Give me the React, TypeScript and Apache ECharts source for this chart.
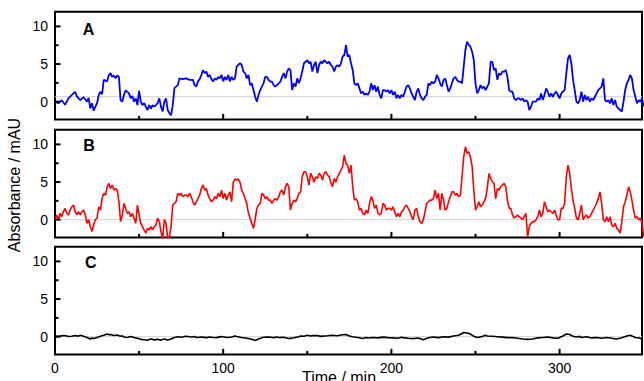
import { useEffect, useRef } from "react";
import * as echarts from "echarts";

const timeTicks = [0, 100, 200, 300];
const timeMinorTicks = [50, 150, 250];
const yMajorTicks = [0, 5, 10];
const yMinorTicks = [2.5, 7.5];
const panelLetters = ["A", "B", "C"];
const baselines = [0.66, 0, 0];
const traceColors = ["#0000ff", "#ff0000", "#000000"];

const seriesA: number[][] = [
  [0,0],[2,-0.2],[4,0.2],[6,-0.4],[8,0.45],[10,0.9],[12,1.3],[13,0.7],[15,0.2],[17,0.6],[19,0],[20,0.5],[21,-0.9],[22,-0.2],[23,-1.2],[25,-0.2],[26,0.9],[27,1.3],[28,1],[29,2.9],[31,2.7],[32,3.5],[33,3.8],[34,3.3],[35,3.5],[36,3.1],[37,3.5],[38,3.3],[39,0.2],[40,0],[41,0.9],[42,1.5],[44,1.1],[45,0.45],[46,0.75],[47,0],[48,0.45],[49,-0.45],[50,1.45],[51,0],[52,-0.45],[53,-0.2],[54,-0.65],[55,-1.1],[56,-0.45],[57,-0.9],[58,-0.45],[59,-0.65],[60,-0.45],[61,-0.2],[62,0.45],[63,-0.65],[64,-1.3],[65,0],[66,0.45],[67,-1.1],[68,-1.5],[69,-1.8],[70,-0.45],[71,1.8],[72,2],[73,2.2],[74,3.1],[76,3],[78,3.1],[80,2.9],[82,2.9],[83,2.2],[84,2],[85,2.7],[86,3],[87,3.55],[88,4.2],[89,3.8],[90,4],[91,3.3],[92,3.55],[93,3],[94,2.7],[95,3.1],[96,2.9],[97,3.3],[98,3.1],[99,3.55],[100,2.7],[101,3.3],[102,2.9],[103,3.55],[104,2.7],[105,3.3],[106,2.9],[107,3.1],[108,4.65],[109,4.9],[110,5.1],[111,4.9],[112,4],
  [113,3.8],[114,3.1],[115,3.55],[116,2.2],[117,2.44],[118,1.55],[119,0.66],[120,0],[121,0.9],[122,1.55],[123,2],[124,2.44],[125,3.3],[126,3.3],[127,2.9],[128,2.66],[129,2.66],[130,2.2],[131,2],[132,2.2],[133,2.44],[134,2.66],[135,3.3],[136,3.8],[137,3.1],[138,4],[139,4.4],[140,4.2],[141,1.55],[142,2.44],[143,2],[144,3.1],[145,2.44],[146,3.1],[147,4],[148,5.1],[149,5.3],[150,5.5],[151,5.1],[152,5.3],[153,4],[154,4.87],[155,5.3],[156,3.8],[157,4.87],[158,5.3],[159,5.1],[160,5.5],[161,5.3],[162,5.1],[163,5.3],[164,4.87],[165,4.65],[166,4],[167,4.65],[168,4.87],[169,4.65],[170,5.1],[171,6],[172,6.2],[173,7.5],[174,6],[175,6.2],[176,5.1],[177,4.2],[178,2.44],[179,2.2],[180,2.44],[181,1.77],[182,1.1],[183,1.33],[184,0.9],[185,1.1],[186,0.9],[187,1.33],[188,2.44],[189,1.55],[190,2.2],[191,1.33],[192,2],[193,0.9],[194,0.44],[195,1.55],[196,1.55],[197,1.33],[198,1.55],[199,1.1],[200,1.55],[201,0.9],[202,1.33],[203,0.44],[204,0.9],[205,0.44],[206,0.9],[207,0.66],[208,1.33],[209,2],[210,2.2],[211,1.77],[212,1.1],[213,0.66],[214,0.22],[215,1.33],[216,1.77],[217,0.9],[218,0.44],[219,0.22],[220,0.66],[221,0.9],[222,2.44],[223,2.2],[224,2.66],[225,2.44],[226,2.66],[227,3.55],[228,3.1],[229,2.44],[230,2],[231,2.88],[232,3.1],
  [233,2.2],[234,1.33],[235,1.77],[236,2.44],[237,3.1],[238,3.3],[239,2.88],[240,2.66],[241,2.66],[242,2.44],[243,4.65],[244,6.87],[245,7.97],[246,7.53],[247,7.3],[248,6.64],[249,5.54],[250,2.44],[251,1.1],[252,1.55],[253,2.2],[254,1.77],[255,2],[256,1.55],[257,2],[258,2.44],[259,5.3],[260,5.3],[261,4.2],[262,4.43],[263,2.9],[264,3.77],[265,3.55],[266,4],[267,4],[268,4.2],[269,3.3],[270,1.55],[271,1.33],[272,1.33],[273,0.44],[274,0.22],[275,0.44],[276,0.44],[277,0.22],[278,0.44],[279,0],[280,0.22],[281,0],[282,-1.1],[283,-0.66],[284,0],[285,0],[286,0],[287,0.44],[288,0.22],[289,1.1],[290,0.22],[291,0.89],[292,1.77],[293,1.33],[294,0.66],[295,1.1],[296,0.66],[297,1.1],[298,1.33],[299,0.89],[300,0.44],[301,1.1],[302,1.33],[303,1.55],[304,3.77],[305,5.76],[306,6.2],[307,5.1],[308,2.9],[309,1.55],[310,0],[311,-0.22],[312,0.22],[313,1.33],[314,0],[315,0.89],[316,0.22],[317,0.66],[318,0],[319,0.44],[320,0.22],[321,0.66],[322,1.1],[323,1.55],[324,1.77],[325,2],[326,3.1],[327,0.22],[328,0],[329,0.22],[330,-0.22],[331,0.44],[332,-0.44],[333,0.22],[334,-0.66],[335,-0.88],[336,-1.1],[337,-1.33],[338,0],[339,1.55],[340,2.44],[341,2.88],[342,3.55],[343,3.1],[344,1.55],[345,0.66],[346,-0.22],[347,0.22],[348,0],[349,0.44],[350,-0.66]
];

const seriesB: number[][] = [
  [0,0],[1,0.63],[2,0],[3,0.85],[4,0.4],[5,1.06],[6,1.5],[7,0.85],[8,0.63],[9,1.28],[10,1.72],[11,1.95],[12,1.06],[13,0.63],[14,1.06],[15,0.63],[16,1.06],[17,1.28],[18,0.63],[19,-0.48],[20,0],[21,-0.93],[22,-1.58],[23,-0.7],[24,0],[25,0.2],[26,1.72],[27,1.28],[28,2.8],[29,3.5],[30,3.27],[31,4.37],[32,4.82],[33,4.15],[34,4.6],[35,3.93],[36,4.15],[37,3.93],[38,2.38],[39,-0.26],[40,0.63],[41,2.17],[42,1.5],[43,0.85],[44,1.06],[45,0.4],[46,0.85],[47,0.2],[48,-0.48],[49,1.95],[50,0.63],[51,-0.48],[52,-0.93],[53,-1.36],[54,-1.8],[55,-1.15],[56,-1.36],[57,-0.93],[58,-1.36],[59,-0.93],[60,-0.7],[61,0.2],[62,-0.26],[63,-1.58],[64,-2.47],[65,0],[66,-0.48],[67,-2.47],[68,-2.25],[69,-0.93],[70,1.95],[71,2.17],[72,2.38],[73,3.5],[74,3.27],[75,3.5],[76,3.05],[77,3.27],[78,3.27],[79,3.05],[80,3.5],[81,3.05],[82,2.38],[83,1.95],[84,2.38],[85,2.8],[86,3.27],[87,4.15],[88,4.6],[89,3.93],[90,4.15],[91,3.27],[92,2.8],[93,2.38],[94,2.6],[95,3.05],[96,2.8],[97,3.5],[98,3.05],[99,3.93],[100,2.8],[101,3.5],[102,2.6],[103,3.27],[104,3.7],[105,2.38],[106,4.97],[107,5.4],[108,5.26],[109,5.4],[110,4.97],[111,3.93],[112,3.5],[113,2.8],[114,2.17],[115,0.85],[116,0.2],[117,-0.48],[118,-1.15],[119,0],[120,1.5],[121,1.95],[122,2.17],[123,3.5],[124,3.27],[125,2.8],[126,3.05],[127,2.6],[128,2.6],[129,2.17],[130,2.6],[131,2.8],[132,2.6],[133,3.05],[134,3.7],[135,3.93],[136,3.27],[137,4.37],[138,4.82],[139,4.37],[140,1.28],[141,2.17],[142,2.6],[143,2.38],[144,2.8],[145,3.5],[146,3.7],[147,5.7],[148,6.37],[149,6.37],[150,5.7],[151,4.6],[152,6.15],[153,5.7],[154,4.97],[155,5.7],[156,5.48],[157,6.15],[158,5.93],[159,5.26],[160,6.15],[161,6.37],[162,5.93],[163,5.7],[164,4.97],[165,4.37],[166,5.48],[167,4.97],[168,5.7],[169,6.15],[170,6.58],[171,7.03],[172,8.57],[173,7.47],[174,7.25],[175,6.15],
  [176,7.25],[177,4.37],[178,2.6],[179,2.8],[180,2.38],[181,1.28],[182,1.5],[183,0.85],[184,0.63],[185,1.28],[186,0.85],[187,2.17],[188,3.05],[189,2.6],[190,1.5],[191,1.95],[192,0.85],[193,0.63],[194,0.85],[195,2.17],[196,1.95],[197,1.28],[198,1.5],[199,1.5],[200,1.28],[201,1.72],[202,1.06],[203,0.4],[204,0.85],[205,0.4],[206,1.06],[207,1.28],[208,1.72],[209,1.95],[210,1.5],[211,1.06],[212,0.4],[213,0],[214,1.28],[215,1.5],[216,0.4],[217,-0.26],[218,-0.48],[219,0],[220,1.06],[221,2.17],[222,2.38],
  [223,2.6],[224,2.6],[225,2.8],[226,3.93],[227,2.8],[228,3.5],[229,1.28],[230,3.5],[231,2.6],[232,1.28],[233,1.5],[234,2.38],[235,3.05],[236,3.7],[237,3.7],[238,3.27],[239,3.5],[240,3.05],[241,3.27],[242,5.7],[243,8.35],[244,9.68],[245,8.8],[246,9],[247,8.35],[248,7.03],[249,3.93],[250,1.28],[251,1.72],[252,2.38],[253,1.72],[254,1.95],[255,2.38],[256,2.8],[257,4.15],[258,6.15],[259,5.48],[260,5.04],[261,4.82],[262,2.8],[263,4.15],[264,3.93],[265,4.37],[266,4.6],[267,4.82],[268,4.37],[269,2.6],[270,1.5],[271,1.5],[272,0.63],[273,0.2],[274,0.4],[275,0.63],[276,0.4],[277,0.2],[278,0],[279,0.4],[280,0.85],[281,-2.25],[282,-0.93],[283,-0.48],[284,-0.26],[285,-0.26],[286,0],[287,0.4],[288,1.28],[289,0.4],[290,0.85],[291,2.38],[292,1.72],[293,1.06],[294,1.28],[295,1.06],[296,0.85],[297,1.28],[298,0.63],[299,0],[300,0],[301,1.5],[302,1.5],[303,2.17],[304,5.7],[305,7.25],[306,6.15],[307,4.15],[308,2.6],[309,1.5],[310,0.2],[311,0],[312,0.85],[313,1.95],[314,0],[315,0.4],[316,0.63],[317,0.2],[318,0.4],[319,0.85],[320,1.28],[321,1.72],[322,2.17],[323,2.8],[324,3.7],[325,2.17],[326,0],[327,-0.26],[328,0.4],[329,-0.26],[330,0.4],[331,-0.7],[332,-0.93],[333,-0.48],[334,-1.15],[335,-1.36],[336,-1.8],[337,-0.26],[338,1.72],[339,2.38],[340,3.27],[341,4.37],[342,3.7],[343,2.6],[344,1.28],[345,0.2],[346,0.4],[347,0],[348,0.2],[349,-0.48],[350,-2.25]
];

const seriesC: number[][] = [
  [0,0.1],[2,0.02],[3,0.08],[5,0.15],[7,0.1],[8,0.02],[10,0.05],[12,0.15],[14,0.08],[15,0.2],[17,0.05],[19,-0.1],[21,-0.3],[22,-0.18],[23,-0.25],[25,-0.1],[27,0.05],[29,0.2],[31,0.35],[32,0.25],[33,0.3],[35,0.15],[37,0.22],[39,0.05],[40,0.12],[41,-0.05],[43,-0.1],[45,0.02],[47,-0.1],[49,-0.2],[51,-0.35],[53,-0.4],[55,-0.48],[56,-0.36],[57,-0.3],[59,-0.42],[61,-0.35],[63,-0.48],[64,-0.36],[65,-0.3],[67,-0.45],[69,-0.3],[71,-0.1],[73,0],[75,-0.08],[77,0.02],[78,0.06],[81,-0.05],[83,0.02],[84,-0.1],[87,-0.04],[90,-0.12],[92,-0.03],[93,-0.08],[96,-0.12],[98,-0.02],[99,0.02],[102,-0.1],[105,-0.04],[107,0.1],[108,0.02],[111,-0.1],[114,-0.2],[117,-0.35],[119,-0.5],[121,-0.3],[123,-0.15],[124,-0.08],[127,-0.03],[130,-0.12],[132,-0.05],[133,-0.1],[136,-0.08],[139,-0.25],[142,-0.15],[145,0],[146,0.1],[148,0.05],[150,0.2],[152,0.08],[153,0.14],[156,0.15],[158,0.04],[159,0.08],[162,0.12],[165,0.2],[168,0.12],[171,0.25],[173,0.3],[175,0.1],[177,0],[180,-0.1],[183,-0.25],[185,-0.12],[186,-0.18],[189,-0.1],[192,-0.16],[195,-0.06],[198,-0.12],[201,-0.15],[204,-0.2],[206,-0.08],[207,-0.12],[210,-0.2],[213,-0.25],[216,-0.18],[219,-0.4],[222,-0.15],[225,-0.05],[228,-0.12],[231,0],[234,-0.06],[237,0.1],[240,0.2],[243,0.55],[245,0.5],[247,0.35],[249,0.05],[251,-0.1],[254,0.02],[256,0.18],[257,0.1],[260,0.05],[263,0],[266,-0.06],[269,-0.12],[272,-0.1],[275,-0.2],[278,-0.3],[281,-0.35],[284,-0.3],[287,-0.15],[290,-0.1],[293,-0.05],[296,-0.16],[299,-0.2],[302,0.1],[304,0.35],[306,0.3],[308,0.05],[310,-0.05],[312,0.04],[313,-0.1],[316,0],[319,-0.16],[322,-0.1],[325,-0.2],[328,-0.1],[331,-0.2],[334,-0.3],[337,-0.15],[340,0.1],[342,0.2],[345,-0.1],[347,-0.15],[349,-0.3]
];

const X_MIN = 0;
const X_MAX = 349;
const Y_MIN = -2.35;
const Y_MAX = 11.95;

const FONT = '"Liberation Sans", Arial, Helvetica, sans-serif';

export default function App() {
  const ref = useRef<HTMLDivElement>(null);
  useEffect(() => {
    document.body.style.margin = "0";
    if (!ref.current) return;
    const chart = echarts.init(ref.current, undefined, { renderer: "svg" });
    const panelTops = [11.7, 129.7, 246.7];
    const panelHeight = 107.7;
    const gridLeft = 55;
    const gridRight = 2;
    const plotWidth = 644 - gridLeft - gridRight;
    const xPerPx = (X_MAX - X_MIN) / plotWidth;
    const yPerPx = (Y_MAX - Y_MIN) / panelHeight;
    const traces = [seriesA, seriesB, seriesC];

    const grid = panelTops.map((top) => ({
      left: gridLeft,
      right: gridRight,
      top,
      height: panelHeight,
      show: true,
      borderColor: "#000",
      borderWidth: 2,
      backgroundColor: "rgba(0,0,0,0)",
      containLabel: false,
      outerBoundsMode: "none",
    }));

    const xAxis = panelTops.map((_, i) => ({
      type: "value",
      gridIndex: i,
      position: "bottom",
      min: X_MIN,
      max: X_MAX,
      interval: 100,
      axisLine: { show: false, onZero: false },
      axisTick: { show: false },
      minorTick: { show: false },
      splitLine: { show: false },
      minorSplitLine: { show: false },
      axisLabel: {
        show: i === 2,
        color: "#000",
        fontSize: 14,
        fontFamily: FONT,
        margin: 7,
        formatter: (v: number) => (timeTicks.includes(v) ? String(v) : ""),
      },
    }));

    // splitNumber 3 over this fixed range gives nice label values 0, 5, 10
    const yAxis = panelTops.map((_, i) => ({
      type: "value",
      gridIndex: i,
      position: "left",
      min: Y_MIN,
      max: Y_MAX,
      splitNumber: 3,
      axisLine: { show: false, onZero: false },
      axisTick: { show: false },
      axisLabel: {
        color: "#000",
        fontSize: 14,
        fontFamily: FONT,
        margin: 7,
        formatter: (v: number) => (yMajorTicks.includes(v) ? String(v) : ""),
      },
      splitLine: { show: false },
    }));

    // tick marks (inside the frame), each drawn as a short segment through the axes' scales
    const tickSegs: number[][][] = [
      ...yMajorTicks.map((v) => [[X_MIN, v], [X_MIN + 5.5 * xPerPx, v]]),
      ...yMinorTicks.map((v) => [[X_MIN, v], [X_MIN + 3.5 * xPerPx, v]]),
      ...timeTicks.map((t) => [[t, Y_MIN], [t, Y_MIN + 5.5 * yPerPx]]),
      ...timeMinorTicks.map((t) => [[t, Y_MIN], [t, Y_MIN + 3.5 * yPerPx]]),
    ];

    const series: any[] = [];
    traces.forEach((data, i) => {
      series.push({
        type: "line",
        xAxisIndex: i,
        yAxisIndex: i,
        data: [[X_MIN, baselines[i]], [X_MAX, baselines[i]]],
        symbol: "none",
        silent: true,
        lineStyle: { color: "#cfcfcf", width: 1 },
        z: 1,
      });
      series.push({
        type: "line",
        xAxisIndex: i,
        yAxisIndex: i,
        data,
        symbol: "none",
        showSymbol: false,
        clip: true,
        lineStyle: { color: traceColors[i], width: i === 0 ? 1.8 : 1.6 },
        z: 2,
      });
      tickSegs.forEach((seg) => {
        series.push({
          type: "line",
          xAxisIndex: i,
          yAxisIndex: i,
          data: seg,
          symbol: "none",
          silent: true,
          clip: false,
          lineStyle: { color: "#000", width: 2 },
          z: 4,
        });
      });
    });

    const letterPos = [
      [88.5, 29.2],
      [89, 145.3],
      [90.8, 262.2],
    ];
    const graphic: any[] = panelLetters.map((t, i) => ({
      type: "text",
      x: letterPos[i][0],
      y: letterPos[i][1],
      style: {
        text: t,
        font: `bold 16px ${FONT}`,
        fill: "#000",
        align: "center",
        verticalAlign: "middle",
        textAlign: "center",
        textVerticalAlign: "middle",
      },
    }));
    graphic.push({
      type: "text",
      x: 14,
      y: 185,
      rotation: Math.PI / 2,
      style: {
        text: "Absorbance / mAU",
        font: `16px ${FONT}`,
        fill: "#000",
        align: "center",
        verticalAlign: "middle",
        textAlign: "center",
        textVerticalAlign: "middle",
      },
    });
    graphic.push({
      type: "text",
      x: 339,
      y: 377,
      style: {
        text: "Time / min",
        font: `16px ${FONT}`,
        fill: "#000",
        align: "center",
        verticalAlign: "middle",
        textAlign: "center",
        textVerticalAlign: "middle",
      },
    });

    chart.setOption({
      animation: false,
      backgroundColor: "#fff",
      grid,
      xAxis,
      yAxis,
      series,
      graphic,
    });
    return () => chart.dispose();
  }, []);
  return (
    <div
      ref={ref}
      style={{ position: "fixed", left: 0, top: 0, width: 644, height: 381 }}
    />
  );
}
